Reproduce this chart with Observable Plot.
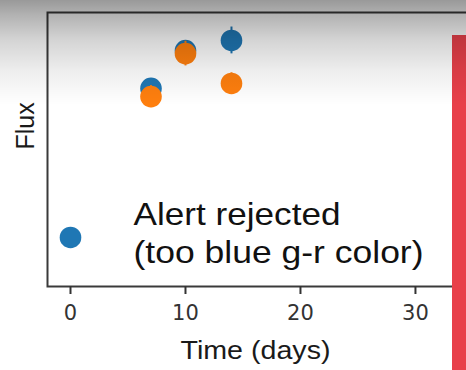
<!DOCTYPE html>
<html><head><meta charset="utf-8">
<script src="https://cdn.jsdelivr.net/npm/d3@7"></script>
<script src="https://cdn.jsdelivr.net/npm/@observablehq/plot@0.6"></script>
<style>
html,body{margin:0;padding:0;background:#fff;}
#chart{position:relative;width:466px;height:370px;overflow:hidden;background:#fff;}
#chart svg{display:block;overflow:hidden;}
#redbar{position:absolute;left:452px;top:35px;width:14px;height:335px;background:#e8404a;}
#shade{position:absolute;left:0;top:0;width:466px;height:120px;pointer-events:none;
  background:linear-gradient(to bottom, rgba(0,0,0,0.40) 0px, rgba(0,0,0,0.30) 15px, rgba(0,0,0,0.17) 40px, rgba(0,0,0,0.07) 70px, rgba(0,0,0,0) 105px);}
g[aria-label="x-axis tick label"], g[aria-label="x-axis tick label"] text{font-family:"DejaVu Sans",sans-serif;font-size:21px;fill:#333;}
</style></head><body><div id="chart"></div>
<script>
// g-band (blue) photometry
const gDays = [0, 7, 10, 14];
const gFlux = [17.9, 72.3, 86.1, 89.8];
const gErr  = [1.5, 2.0, 2.0, 4.9];
// r-band (orange) photometry
const rDays = [7, 10, 14];
const rFlux = [69.3, 85.0, 74.1];
const rErr  = [4.0, 4.5, 3.9];
// axis ticks
const xTicks = [0, 10, 20, 30];
// annotation
const annotationLines = ["Alert rejected", "(too blue g-r color)"];
const annotationX = 5.48;
const annotationY = [22.6, 8.4];
const textWidths = {"Alert rejected": 207, "(too blue g-r color)": 290, "Time (days)": 150};

const gData = gDays.map((d, i) => ({day: d, flux: gFlux[i], err: gErr[i]}));
const rData = rDays.map((d, i) => ({day: d, flux: rFlux[i], err: rErr[i]}));

const blue = "#1f77b4", orange = "#ff7f0e";
const sans = "'Liberation Sans', Arial, sans-serif";

const chart = Plot.plot({
  width: 466, height: 370,
  marginLeft: 47, marginRight: -3, marginTop: 12, marginBottom: 84,
  x: {domain: [-2, 34.7]},
  y: {domain: [0, 100], axis: null},
  style: {background: "transparent", fontFamily: sans},
  marks: [
    Plot.ruleX(gData, {x: "day", y1: d => d.flux - d.err, y2: d => d.flux + d.err, stroke: blue, strokeWidth: 2}),
    Plot.dot(gData, {x: "day", y: "flux", r: 10.8, fill: blue}),
    Plot.ruleX(rData, {x: "day", y1: d => d.flux - d.err, y2: d => d.flux + d.err, stroke: orange, strokeWidth: 2}),
    Plot.dot(rData, {x: "day", y: "flux", r: 10.8, fill: orange}),
    Plot.frame({stroke: "#3a3a3a", strokeWidth: 2}),
    Plot.axisX({ticks: xTicks, tickSize: 8, tickPadding: 11, label: null, stroke: "#333", strokeWidth: 2}),
    Plot.text(annotationLines, {
      x: annotationX, y: (d, i) => annotationY[i], text: d => d,
      textAnchor: "start", lineAnchor: "bottom", fontSize: 32,
      fontFamily: sans, fill: "#111"
    }),
    Plot.text(["Time (days)"], {
      frameAnchor: "bottom", dx: -3, dy: 72, lineAnchor: "bottom", fontSize: 26,
      fontFamily: sans, fill: "#1a1a1a"
    }),
    Plot.text(["Flux"], {
      frameAnchor: "left", dx: -14, rotate: -90, lineAnchor: "bottom", fontSize: 25,
      fontFamily: sans, fill: "#1a1a1a"
    })
  ]
});

d3.select(chart).selectAll("text").each(function () {
  const t = this.textContent;
  if (textWidths[t] != null) {
    this.setAttribute("textLength", textWidths[t]);
    this.setAttribute("lengthAdjust", "spacingAndGlyphs");
  }
});

const host = document.getElementById("chart");
host.appendChild(chart);
const red = document.createElement("div"); red.id = "redbar"; host.appendChild(red);
const shade = document.createElement("div"); shade.id = "shade"; host.appendChild(shade);
</script>
</body></html>
